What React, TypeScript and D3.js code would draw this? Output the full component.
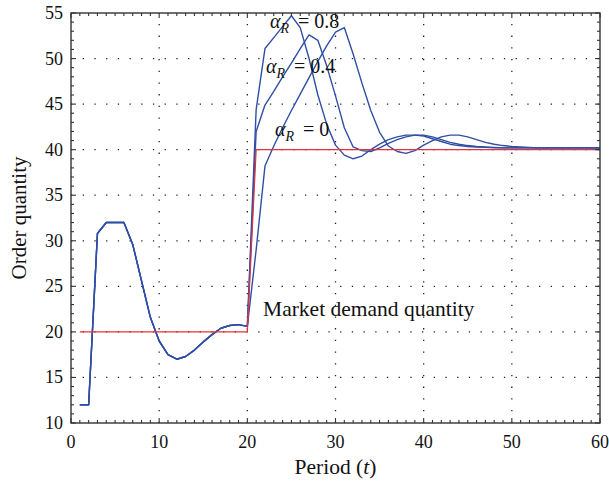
import React, { useEffect, useRef } from 'react';
import * as d3 from 'd3';

// periods t = 1..60
const periods: number[] = d3.range(1, 61);

// shared response for t = 1..20 (all three curves coincide)
const commonStart = [12, 12, 30.8, 32, 32, 32, 29.6, 25.6, 21.6, 19.0, 17.5, 17.0, 17.3, 18.0, 18.9, 19.7, 20.4, 20.7, 20.8, 20.6];

// t = 21..60 for each alpha_R
const alpha08 = [44.4, 51.1, 52.3, 53.5, 54.7, 53.4, 50.0, 46.0, 42.8, 40.5, 39.4, 39.0, 39.3, 40.0, 40.6, 41.1, 41.4, 41.6, 41.6, 41.5,
  41.2, 40.9, 40.6, 40.45, 40.35, 40.3, 40.25, 40.2, 40.2, 40.2, 40.2, 40.2, 40.2, 40.2, 40.2, 40.2, 40.2, 40.2, 40.2, 40.2];
const alpha04 = [42.0, 44.9, 46.4, 48.0, 49.5, 51.1, 52.6, 52.0, 49.2, 45.9, 42.4, 40.3, 39.9, 39.8, 40.2, 40.7, 41.1, 41.4, 41.6, 41.6,
  41.4, 41.1, 40.8, 40.6, 40.45, 40.35, 40.3, 40.25, 40.2, 40.2, 40.2, 40.2, 40.2, 40.2, 40.2, 40.2, 40.2, 40.2, 40.2, 40.2];
const alpha0 = [29.0, 38.2, 40.4, 42.4, 44.3, 46.1, 47.9, 49.7, 51.4, 52.9, 53.4, 50.5, 47.3, 44.3, 41.9, 40.4, 39.8, 39.6, 39.9, 40.5,
  41.0, 41.4, 41.6, 41.6, 41.4, 41.1, 40.8, 40.6, 40.45, 40.35, 40.3, 40.25, 40.2, 40.2, 40.2, 40.2, 40.2, 40.2, 40.2, 40.2];

// market demand (step from 20 to 40)
const demandPeriods = [1, 20, 21, 60];
const demandValues = [20, 20, 40, 40];

const xTicks = [0, 10, 20, 30, 40, 50, 60];
const yTicks = [10, 15, 20, 25, 30, 35, 40, 45, 50, 55];

// label text and anchor (period, value)
const alphaLabels = ['0.8', '0.4', '0'];
const alphaLabelPos = [[22.57, 53.35], [22.12, 48.4], [23.14, 41.5]];
const demandLabel = 'Market demand quantity';
const demandLabelPos = [21.78, 21.74];

const W = 609, H = 485;
const margin = { top: 13, right: 9, bottom: 62, left: 71 };
const BLUE = '#2f4fa5';
const RED = '#e5333d';
const SERIF = '"Liberation Serif", "Times New Roman", serif';

const App = () => {
  const svgRef = useRef<SVGSVGElement>(null);

  useEffect(() => {
    const svg = d3.select(svgRef.current);
    svg.selectAll('*').remove();

    const x = d3.scaleLinear().domain([0, 60]).range([margin.left, W - margin.right]);
    const y = d3.scaleLinear().domain([10, 55]).range([H - margin.bottom, margin.top]);
    const [x0, x1] = x.range();
    const [y0, y1] = y.range();

    // dotted grid
    const grid = svg.append('g').attr('stroke', '#222').attr('stroke-width', 1.3)
      .attr('stroke-dasharray', '1.3,10.4');
    grid.selectAll('.gx').data(xTicks.slice(1, -1)).enter().append('line')
      .attr('x1', d => x(d)).attr('x2', d => x(d)).attr('y1', y0).attr('y2', y1);
    grid.selectAll('.gy').data(yTicks.slice(1, -1)).enter().append('line')
      .attr('y1', d => y(d)).attr('y2', d => y(d)).attr('x1', x0).attr('x2', x1);

    // curves
    const series = [alpha08, alpha04, alpha0].map(tail =>
      periods.map((t, i) => [t, i < 20 ? commonStart[i] : tail[i - 20]] as [number, number]));
    const line = d3.line<[number, number]>().x(d => x(d[0])).y(d => y(d[1]));

    svg.append('g').selectAll('path').data(series).enter().append('path')
      .attr('d', d => line(d))
      .attr('fill', 'none').attr('stroke', BLUE).attr('stroke-width', 1.4)
      .attr('stroke-linejoin', 'round');

    const demand = demandPeriods.map((t, i) => [t, demandValues[i]] as [number, number]);
    svg.append('path').attr('d', line(demand))
      .attr('fill', 'none').attr('stroke', RED).attr('stroke-width', 1.2);

    // frame + ticks on all sides (inward)
    const axis = svg.append('g').attr('stroke', '#333').attr('stroke-width', 1.1);
    axis.append('rect').attr('x', x0).attr('y', y1).attr('width', x1 - x0).attr('height', y0 - y1)
      .attr('fill', 'none').attr('stroke-width', 1.4);
    const xMinor = d3.range(0, 61, 1);
    const yMinor = d3.range(10, 56, 1);
    xMinor.forEach(v => {
      const len = v % 10 === 0 ? 5 : 3;
      axis.append('line').attr('x1', x(v)).attr('x2', x(v)).attr('y1', y0).attr('y2', y0 - len);
      axis.append('line').attr('x1', x(v)).attr('x2', x(v)).attr('y1', y1).attr('y2', y1 + len);
    });
    yMinor.forEach(v => {
      const len = v % 5 === 0 ? 5 : 3;
      axis.append('line').attr('y1', y(v)).attr('y2', y(v)).attr('x1', x0).attr('x2', x0 + len);
      axis.append('line').attr('y1', y(v)).attr('y2', y(v)).attr('x1', x1).attr('x2', x1 - len);
    });

    // tick labels
    const labels = svg.append('g').style('font-family', SERIF).attr('fill', '#111');
    labels.selectAll('.xl').data(xTicks).enter().append('text')
      .attr('x', d => x(d)).attr('y', y0 + 25).attr('text-anchor', 'middle')
      .style('font-size', '18px').text(d => d);
    labels.selectAll('.yl').data(yTicks).enter().append('text')
      .attr('x', x0 - 8).attr('y', d => y(d) + 6).attr('text-anchor', 'end')
      .style('font-size', '18px').text(d => d);

    // axis titles
    const xt = labels.append('text').attr('x', (x0 + x1) / 2).attr('y', H - 11)
      .attr('text-anchor', 'middle').style('font-size', '21.5px');
    xt.append('tspan').text('Period (');
    xt.append('tspan').style('font-style', 'italic').text('t');
    xt.append('tspan').text(')');
    labels.append('text')
      .attr('transform', `translate(26,${(y0 + y1) / 2}) rotate(-90)`)
      .attr('text-anchor', 'middle').style('font-size', '21px').text('Order quantity');

    // annotations
    alphaLabels.forEach((lab, i) => {
      const [t, v] = alphaLabelPos[i];
      const tx = labels.append('text').attr('x', x(t)).attr('y', y(v)).style('font-size', '20px');
      tx.append('tspan').style('font-style', 'italic').text('α');
      tx.append('tspan').style('font-style', 'italic').style('font-size', '14px').attr('dy', 5).text('R');
      tx.append('tspan').attr('dx', 9).attr('dy', -5).text('=');
      tx.append('tspan').attr('dx', 5).text(lab);
    });
    labels.append('text').attr('x', x(demandLabelPos[0])).attr('y', y(demandLabelPos[1]))
      .style('font-size', '21.5px').text(demandLabel);
  }, []);

  return (
    <svg ref={svgRef} width={W} height={H}
      style={{ position: 'absolute', left: 0, top: 0, background: '#fff' }} />
  );
};

export default App;
